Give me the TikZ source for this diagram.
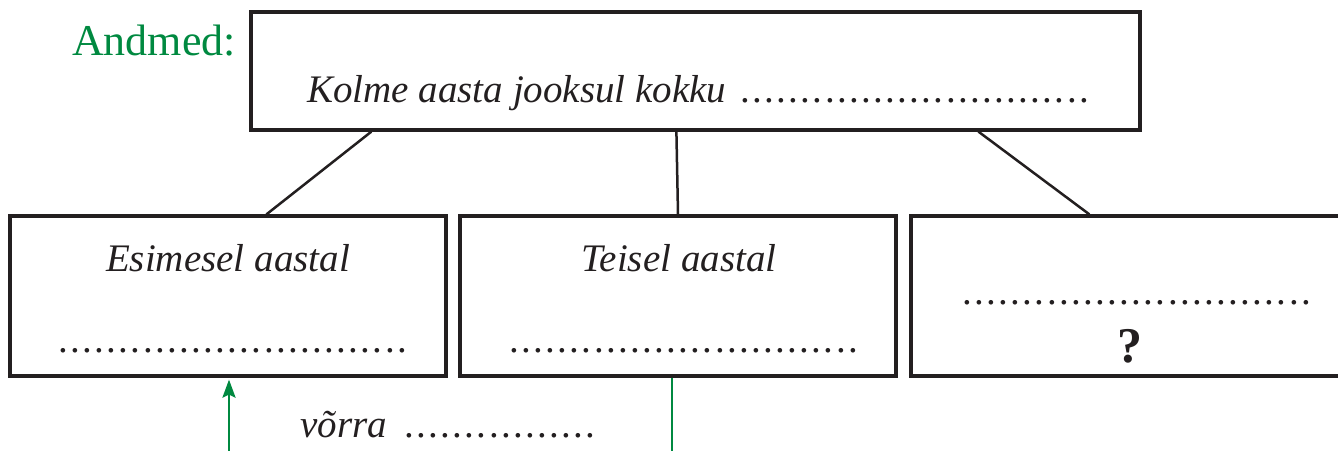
\documentclass[tikz,border=0pt]{standalone}
\usepackage{fontspec}
\setmainfont{Liberation Serif}
\usetikzlibrary{arrows.meta}
\definecolor{andgreen}{RGB}{0,137,64}
\definecolor{ink}{RGB}{35,31,32}
\newcommand\dotrow[1]{\foreach \i in {1,...,#1}{\hbox to 12.1pt{\hss.\hss}}}
\begin{document}
\begin{tikzpicture}[x=1pt,y=-1pt,
  boxx/.style={draw=ink,line width=3.2pt,rectangle,inner sep=0pt},
  txt/.style={inner sep=0pt,text=ink,font=\fontsize{39}{47}\selectfont},
  conn/.style={draw=ink,line width=2.5pt},
  gline/.style={draw=andgreen,line width=2.6pt}]
\useasboundingbox (0,0) rectangle (1338,450);
% boxes
\node[boxx,minimum width=889pt,minimum height=118pt] (top) at (695.5,71) {};
\node[boxx,minimum width=436pt,minimum height=160pt] (b1) at (228,296) {};
\node[boxx,minimum width=436pt,minimum height=160pt] (b2) at (678,296) {};
\node[boxx,minimum width=436pt,minimum height=160pt] (b3) at (1129,296) {};
% texts
\node[txt,text=andgreen,anchor=base west,font=\fontsize{44}{50}\selectfont] (andmed) at (72,55) {Andmed:};
\node[txt,anchor=base west] (kolme) at (307,102) {\itshape Kolme aasta jooksul kokku};
\node[txt,anchor=base west] (kdots) at (739,102) {\dotrow{29}};
\node[txt,anchor=base] (esim) at (228,271) {\itshape Esimesel aastal};
\node[txt,anchor=base west] (d1) at (57,352) {\dotrow{29}};
\node[txt,anchor=base] (teis) at (679,271) {\itshape Teisel aastal};
\node[txt,anchor=base west] (d2) at (508,352) {\dotrow{29}};
\node[txt,anchor=base west] (d3) at (961,304) {\dotrow{29}};
\node[txt,anchor=base,font=\fontsize{50}{56}\selectfont] (q) at (1130,362) {\bfseries ?};
\node[txt,anchor=base west] (vorra) at (300,437) {\itshape võrra};
\node[txt,anchor=base west] (vdots) at (403,437) {\dotrow{16}};
% connectors
\draw[conn] ([xshift=122pt]top.south west) -- ([xshift=258pt]b1.north west);
\draw[conn] ([xshift=427pt]top.south west) -- (b2.north);
\draw[conn] ([xshift=729pt]top.south west) -- ([xshift=180pt]b3.north west);
% green
\coordinate (ga) at (229,452);
\coordinate (gb) at (672,452);
\draw[gline,-{Stealth[length=18pt,width=13pt,inset=3pt]}] (ga) -- ([xshift=1pt,yshift=-2pt]b1.south);
\draw[gline] ([xshift=-6pt]b2.south) -- (gb);
\end{tikzpicture}
\end{document}
